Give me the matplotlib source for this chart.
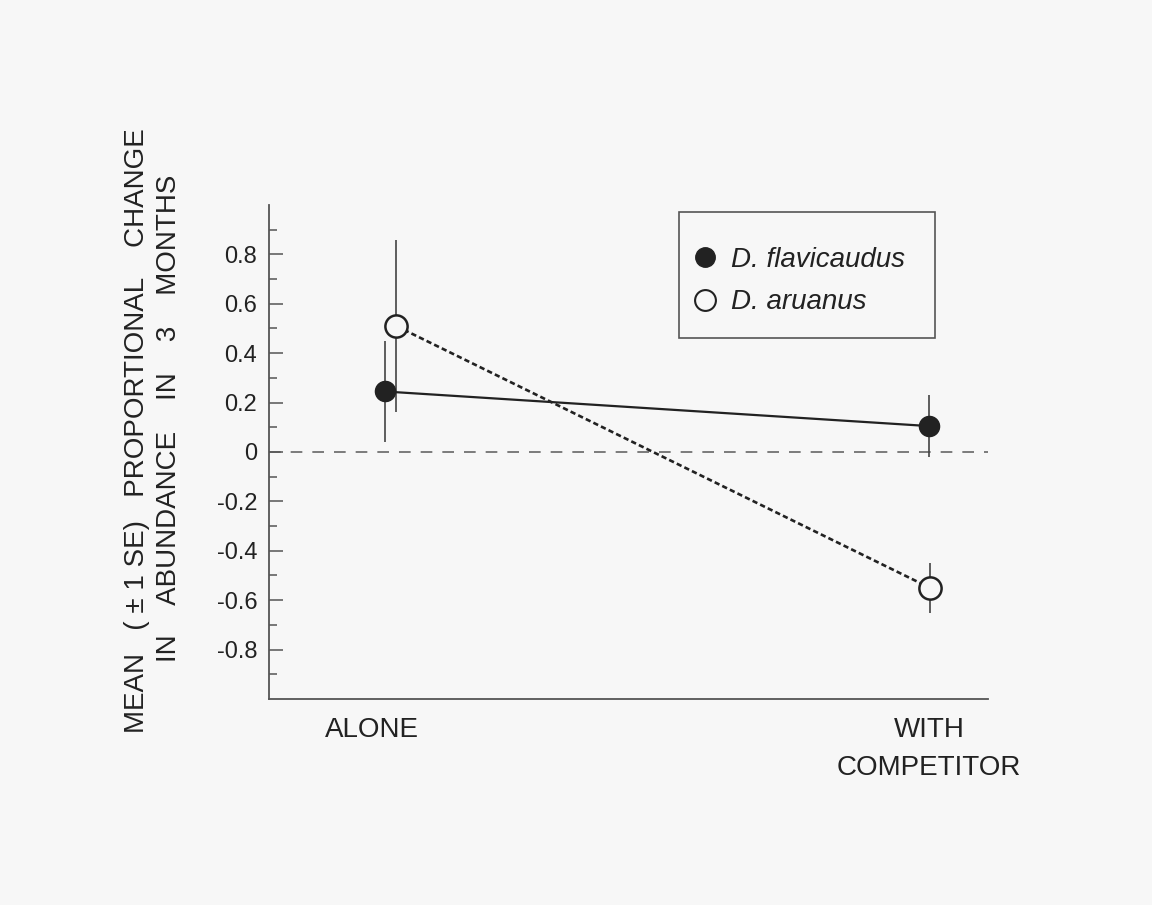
import numpy as np
import matplotlib.pyplot as plt
from matplotlib.patches import Rectangle

plt.rcParams['font.family'] = ['Liberation Sans', 'DejaVu Sans']

# data
groups = ['ALONE', 'WITH\nCOMPETITOR']
species = ['D. flavicaudus', 'D. aruanus']
flav_mean = [0.245, 0.105]
flav_se = [0.205, 0.125]
aru_mean = [0.51, -0.55]
aru_se = [0.35, 0.10]
yticks = [-0.8, -0.6, -0.4, -0.2, 0, 0.2, 0.4, 0.6, 0.8]
ylabels = ['-0.8', '-0.6', '-0.4', '-0.2', '0', '0.2', '0.4', '0.6', '0.8']

bg = '#f7f7f7'
ink = '#222222'
grey = '#555555'

fig = plt.figure(figsize=(11.52, 9.05), dpi=100, facecolor=bg)
ax = fig.add_axes([269/1152, 1 - 699/905, 719/1152, 494/905], facecolor=bg)

x = np.arange(len(groups))
xf = x + np.array([-0.013, 0.0])
xa = x + np.array([0.008, 0.002])

ax.axhline(0, color='#666666', lw=1.2, ls=(0, (7, 6)), zorder=1)

ax.errorbar(xf, flav_mean, yerr=flav_se, fmt='none', ecolor='#444444',
            elinewidth=1.2, capsize=0, zorder=2)
ax.errorbar(xa, aru_mean, yerr=aru_se, fmt='none', ecolor='#444444',
            elinewidth=1.2, capsize=0, zorder=2)

ax.plot(xf, flav_mean, color=ink, lw=1.6, zorder=3)
ax.plot(xa, aru_mean, color=ink, lw=1.9, ls=(0, (2, 1.2)), zorder=3)

ax.plot(xf, flav_mean, 'o', ms=14.5, mfc=ink, mec=ink, zorder=4)
ax.plot(xa, aru_mean, 'o', ms=16, mfc=bg, mec=ink, mew=1.8, zorder=4)

ax.set_xlim(-0.229, 1.11)
ax.set_ylim(-1.0, 1.0)

ax.set_yticks(yticks)
ax.set_yticklabels(ylabels)
ax.set_yticks(np.arange(-0.9, 1.0, 0.2), minor=True)
ax.tick_params(axis='y', which='major', direction='in', length=10, width=1.1,
               color=grey, labelsize=17, pad=8.5, labelcolor=ink)
ax.tick_params(axis='y', which='minor', direction='in', length=6, width=1.1,
               color=grey)

ax.set_xticks(x + np.array([-0.037, 0.0]))
ax.set_xticklabels(groups, linespacing=1.6)
ax.tick_params(axis='x', length=0, pad=13, labelsize=20, labelcolor=ink)

for s in ['top', 'right']:
    ax.spines[s].set_visible(False)
for s in ['left', 'bottom']:
    ax.spines[s].set_color(grey)
    ax.spines[s].set_linewidth(1.3)

fig.text(137/1152, 1 - 431/905,
         'MEAN   ( \u00b1 1 SE)   PROPORTIONAL    CHANGE',
         rotation=90, ha='center', va='center', fontsize=20, color=ink)
fig.text(169/1152, 1 - 418/905,
         'IN    ABUNDANCE    IN    3    MONTHS',
         rotation=90, ha='center', va='center', fontsize=20, color=ink)

# legend frame
ax.add_patch(Rectangle((0.5702, 0.7308), 0.3561, 0.255, transform=ax.transAxes,
                       fill=False, edgecolor=grey, lw=1.2, zorder=5))
h1, = ax.plot([], [], 'o', ms=14, mfc=ink, mec=ink)
h2, = ax.plot([], [], 'o', ms=15, mfc=bg, mec=ink, mew=1.5)
leg = ax.legend([h1, h2], species, loc='center left',
                bbox_to_anchor=(0.591, 0.846), frameon=False,
                prop={'style': 'italic', 'size': 20}, handlelength=0.8,
                handletextpad=0.55, borderpad=0, labelspacing=0.6,
                borderaxespad=0)
for t in leg.get_texts():
    t.set_color(ink)

fig.savefig('out.png', dpi=100, facecolor=bg)
